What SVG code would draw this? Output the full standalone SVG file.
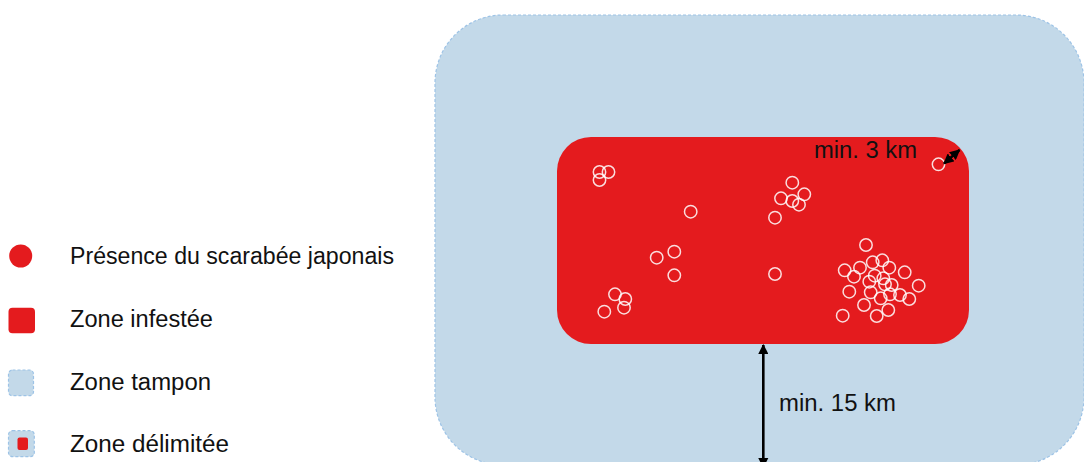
<svg xmlns="http://www.w3.org/2000/svg" width="1084" height="462" viewBox="0 0 1084 462">
  <defs>
    <style>
      .lbl { font-family: "Liberation Sans", Arial, sans-serif; font-size: 23px; fill: #111111; }
      .buffer { fill: #C3D9E9; stroke: #9DC3E6; stroke-width: 1.2; stroke-dasharray: 3 2; }
      .infest { fill: #E41B1E; }
      .pt { fill: none; stroke: #FFFFFF; stroke-opacity: 0.85; stroke-width: 1.5; }
      .dim { stroke: #000000; stroke-width: 2.6; fill: none; }
    </style>
    <marker id="ah" viewBox="0 0 10 10" refX="9" refY="5" markerWidth="4" markerHeight="4" orient="auto-start-reverse" markerUnits="strokeWidth">
      <path d="M0,0 L10,5 L0,10 Z" fill="#000000"/>
    </marker>
  </defs>

  <rect width="1084" height="462" fill="#FFFFFF"/>

  <!-- Delimited zone: buffer zone + infested zone -->
  <g id="zone-tampon">
    <rect class="buffer" x="435" y="15" width="649" height="450" rx="68" ry="68"/>
  </g>
  <g id="zone-infestee">
    <rect class="infest" x="557" y="137" width="412" height="207" rx="34" ry="34"/>
  </g>

  <g id="presences">
    <circle class="pt" cx="599.5" cy="172" r="6.2"/>
    <circle class="pt" cx="608.5" cy="172" r="6.2"/>
    <circle class="pt" cx="599.5" cy="180" r="6.2"/>
    <circle class="pt" cx="690.7" cy="211.7" r="6.2"/>
    <circle class="pt" cx="656.7" cy="257.7" r="6.2"/>
    <circle class="pt" cx="674.3" cy="251.7" r="6.2"/>
    <circle class="pt" cx="674.3" cy="275.3" r="6.2"/>
    <circle class="pt" cx="615" cy="294.3" r="6.2"/>
    <circle class="pt" cx="625.3" cy="299" r="6.2"/>
    <circle class="pt" cx="624" cy="307.7" r="6.2"/>
    <circle class="pt" cx="604.3" cy="311.7" r="6.2"/>
    <circle class="pt" cx="775" cy="274" r="6.2"/>
    <circle class="pt" cx="792.3" cy="182.7" r="6.2"/>
    <circle class="pt" cx="781" cy="198.3" r="6.2"/>
    <circle class="pt" cx="799" cy="204.7" r="6.2"/>
    <circle class="pt" cx="792.3" cy="201" r="6.2"/>
    <circle class="pt" cx="804.3" cy="194.3" r="6.2"/>
    <circle class="pt" cx="775" cy="217.7" r="6.2"/>
    <circle class="pt" cx="938.5" cy="164.3" r="6.2"/>
    <circle class="pt" cx="866" cy="245" r="6.2"/>
    <circle class="pt" cx="844.7" cy="270.3" r="6.2"/>
    <circle class="pt" cx="860" cy="267.7" r="6.2"/>
    <circle class="pt" cx="854" cy="276.7" r="6.2"/>
    <circle class="pt" cx="872.7" cy="262.3" r="6.2"/>
    <circle class="pt" cx="882.3" cy="260.3" r="6.2"/>
    <circle class="pt" cx="889.3" cy="267.7" r="6.2"/>
    <circle class="pt" cx="874.7" cy="275.7" r="6.2"/>
    <circle class="pt" cx="869.3" cy="281.7" r="6.2"/>
    <circle class="pt" cx="883.3" cy="278.3" r="6.2"/>
    <circle class="pt" cx="904.7" cy="272.3" r="6.2"/>
    <circle class="pt" cx="885" cy="284.3" r="6.2"/>
    <circle class="pt" cx="891.7" cy="285" r="6.2"/>
    <circle class="pt" cx="918.7" cy="285.7" r="6.2"/>
    <circle class="pt" cx="849.3" cy="291.7" r="6.2"/>
    <circle class="pt" cx="870.7" cy="292.3" r="6.2"/>
    <circle class="pt" cx="890" cy="294.3" r="6.2"/>
    <circle class="pt" cx="900" cy="295" r="6.2"/>
    <circle class="pt" cx="909.3" cy="299" r="6.2"/>
    <circle class="pt" cx="880.7" cy="298.3" r="6.2"/>
    <circle class="pt" cx="864" cy="305" r="6.2"/>
    <circle class="pt" cx="888.3" cy="310" r="6.2"/>
    <circle class="pt" cx="876.7" cy="316" r="6.2"/>
    <circle class="pt" cx="842.7" cy="315.7" r="6.2"/>
  </g>

  <g id="connectors">
    <line class="dim" x1="944" y1="163.5" x2="959.5" y2="150" marker-start="url(#ah)" marker-end="url(#ah)"/>
    <line class="dim" x1="763.3" y1="345" x2="763.3" y2="467" marker-start="url(#ah)" marker-end="url(#ah)"/>
  </g>

  <g id="dim-labels">
    <text class="lbl" x="814" y="158" font-size="22" textLength="103" lengthAdjust="spacingAndGlyphs">min. 3 km</text>
    <text class="lbl" x="779" y="411" textLength="117" lengthAdjust="spacingAndGlyphs">min. 15 km</text>
  </g>

  <g id="legend">
    <g id="legend-presence">
      <circle cx="20.7" cy="256" r="11.5" fill="#E41B1E"/>
      <text class="lbl" x="70" y="264" textLength="324" lengthAdjust="spacingAndGlyphs">Présence du scarabée japonais</text>
    </g>
    <g id="legend-infestee">
      <rect x="8.5" y="307.7" width="26.5" height="25.6" rx="4" fill="#E41B1E"/>
      <text class="lbl" x="70" y="327" textLength="143" lengthAdjust="spacingAndGlyphs">Zone infestée</text>
    </g>
    <g id="legend-tampon">
      <rect class="buffer" x="8.5" y="370" width="25" height="25.7" rx="4"/>
      <text class="lbl" x="70" y="389.5" textLength="141" lengthAdjust="spacingAndGlyphs">Zone tampon</text>
    </g>
    <g id="legend-delimitee">
      <rect class="buffer" x="8.5" y="430.7" width="25.8" height="26" rx="4"/>
      <rect x="17.5" y="437.5" width="10.5" height="12.5" rx="2" fill="#E41B1E"/>
      <text class="lbl" x="70" y="452" textLength="159" lengthAdjust="spacingAndGlyphs">Zone délimitée</text>
    </g>
  </g>
</svg>
